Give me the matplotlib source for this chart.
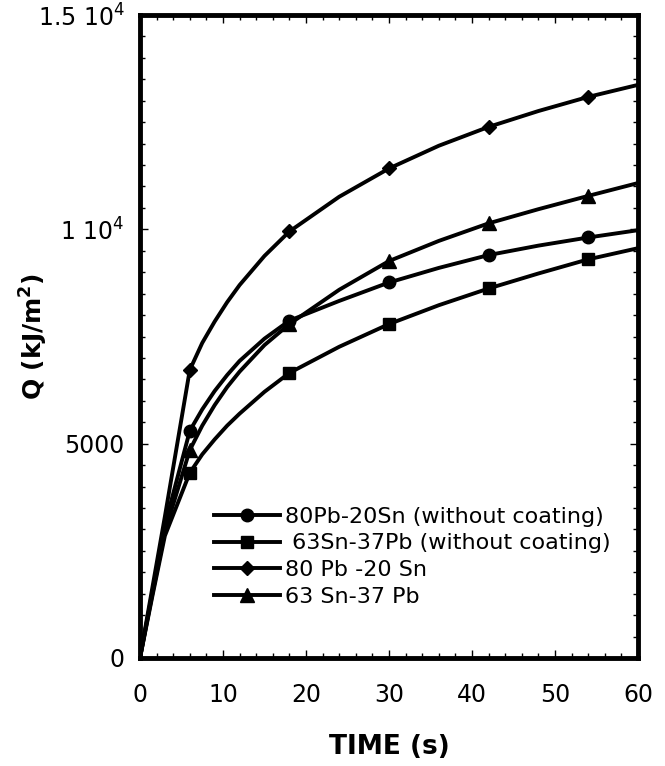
import matplotlib
matplotlib.use("Agg")
import matplotlib.pyplot as plt
from matplotlib.ticker import MultipleLocator

plt.rcParams["font.family"] = ["DejaVu Sans"]
plt.rcParams["mathtext.fontset"] = "dejavusans"

# Time points (s); markers sit at 6, 18, 30, 42, 54
time = [0, 1.5, 3, 6, 7.5, 9, 10.5, 12, 15, 18, 24, 30, 36, 42, 48, 54, 60]

# Heat flux Q (kJ/m2)
pb80_nocoat = [0, 1550, 3100, 5300, 5800, 6230, 6600, 6930, 7450, 7870, 8330, 8760, 9100, 9400, 9620, 9810, 9980]
sn63_nocoat = [0, 1450, 2850, 4320, 4750, 5100, 5420, 5700, 6210, 6650, 7260, 7790, 8230, 8620, 8970, 9300, 9560]
pb80 = [0, 1650, 3300, 6720, 7350, 7850, 8300, 8700, 9380, 9950, 10760, 11420, 11950, 12390, 12760, 13090, 13370]
sn63 = [0, 1500, 2950, 4850, 5420, 5900, 6320, 6680, 7300, 7790, 8590, 9260, 9730, 10140, 10470, 10780, 11080]

labels = [
    "80Pb-20Sn (without coating)",
    " 63Sn-37Pb (without coating)",
    "80 Pb -20 Sn",
    "63 Sn-37 Pb",
]

fig = plt.figure(figsize=(6.65, 7.66), dpi=100)
ax = fig.add_axes([0.2105, 0.141, 0.7489, 0.8394])

marks = [3, 9, 11, 13, 15]
ax.plot(time, pb80_nocoat, color="black", lw=2.8, marker="o", ms=9, markevery=marks, label=labels[0])
ax.plot(time, sn63_nocoat, color="black", lw=2.8, marker="s", ms=8.5, markevery=marks, label=labels[1])
ax.plot(time, pb80, color="black", lw=2.8, marker="D", ms=7, markevery=marks, label=labels[2])
ax.plot(time, sn63, color="black", lw=2.8, marker="^", ms=9.5, markevery=marks, label=labels[3])

ax.set_xlim(0, 60)
ax.set_ylim(0, 15000)
ax.xaxis.set_major_locator(MultipleLocator(10))
ax.xaxis.set_minor_locator(MultipleLocator(2))
ax.yaxis.set_minor_locator(MultipleLocator(500))
ax.set_yticks([0, 5000, 10000, 15000])
ax.set_yticklabels(["0", "5000", r"1 10$^{\mathregular{4}}$", r"1.5 10$^{\mathregular{4}}$"])

ax.tick_params(which="both", direction="in", top=True, right=True, width=1)
ax.tick_params(which="major", length=6)
ax.tick_params(which="minor", length=3.5)
ax.tick_params(axis="x", which="major", labelsize=17, pad=18)
ax.tick_params(axis="y", which="major", labelsize=17, pad=11)

for sp in ax.spines.values():
    sp.set_linewidth(3.5)

ax.set_xlabel("TIME (s)", fontsize=19, fontweight="bold")
ax.xaxis.set_label_coords(0.5, -0.118)
ax.set_ylabel(r"Q (kJ/m$^{\mathregular{2}}$)", fontsize=18, fontweight="bold")
ax.yaxis.set_label_coords(-0.18, 0.5)

ax.legend(loc="lower left", bbox_to_anchor=(0.13, 0.066), frameon=False, fontsize=16,
          handlelength=3.0, handletextpad=0.22, labelspacing=0.3, borderaxespad=0)

fig.savefig("out.png", dpi=100)
